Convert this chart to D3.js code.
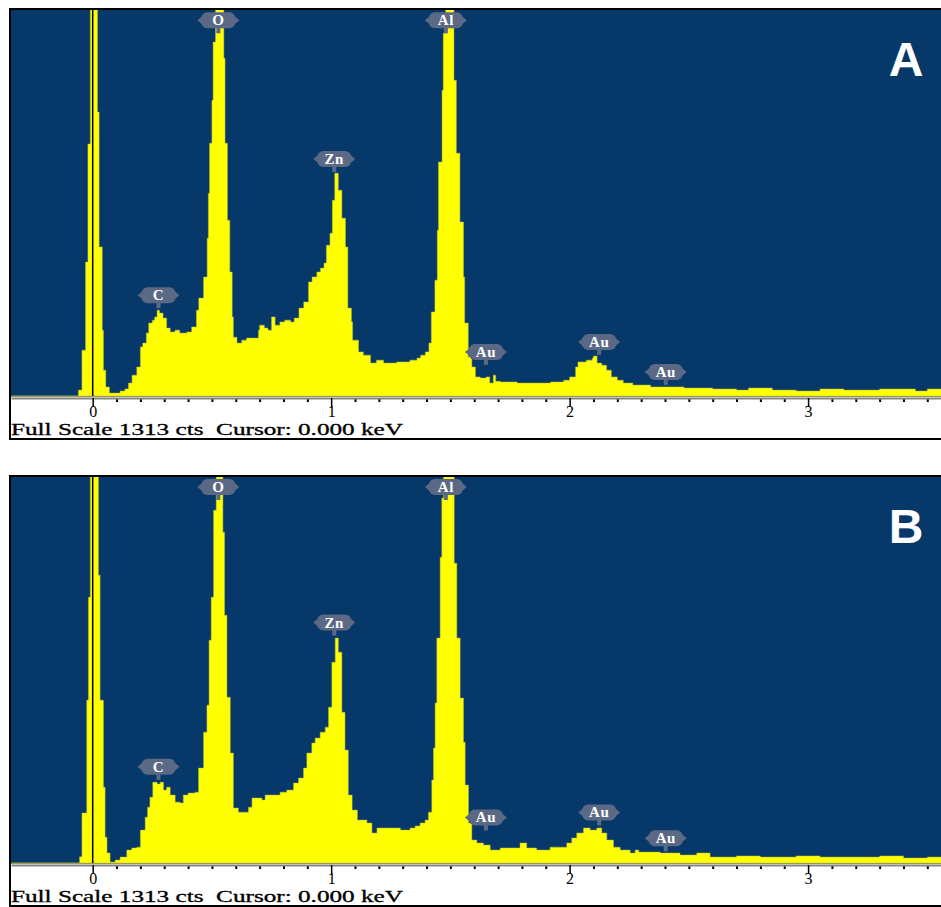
<!DOCTYPE html>
<html>
<head>
<meta charset="utf-8">
<script src="https://cdn.jsdelivr.net/npm/d3@7"></script>
<style>
  body { margin: 0; background: #fff; }
  svg { display: block; }
</style>
</head>
<body>
<script>
// EDS spectra, [energy keV, counts]; values above full scale are clipped by the plot
var fullScale = 1313;

var spectrumA = [
  [-0.34,0],[-0.07,0],[-0.06,20],[-0.045,156],[-0.03,456],[-0.02,857],[-0.01,1600],[0.02,966],
  [0.027,507],[0.04,224],[0.045,88],[0.055,31],[0.07,10],[0.095,10],[0.115,17],[0.135,24],
  [0.15,44],[0.165,71],[0.185,99],[0.2,167],[0.21,180],[0.225,214],[0.235,248],[0.25,258],
  [0.26,269],[0.27,292],[0.28,282],[0.295,265],[0.31,231],[0.325,218],[0.345,224],[0.365,214],
  [0.395,218],[0.415,235],[0.435,292],[0.445,333],[0.465,405],[0.48,537],[0.485,690],[0.49,860],
  [0.5,1006],[0.505,1204],[0.515,1400],[0.535,1380],[0.55,1149],[0.555,860],[0.565,598],[0.575,422],
  [0.585,269],[0.59,200],[0.605,180],[0.625,190],[0.645,197],[0.675,197],[0.695,224],[0.7,241],
  [0.72,231],[0.735,224],[0.75,269],[0.765,241],[0.785,252],[0.805,258],[0.83,252],[0.845,265],
  [0.865,299],[0.885,320],[0.905,388],[0.92,405],[0.94,422],[0.955,435],[0.97,452],[0.98,513],
  [0.995,554],[1.005,666],[1.015,758],[1.03,700],[1.045,605],[1.06,507],[1.07,299],[1.085,252],
  [1.09,190],[1.115,150],[1.135,139],[1.165,112],[1.19,122],[1.22,112],[1.245,112],[1.275,116],
  [1.305,116],[1.33,122],[1.36,129],[1.375,139],[1.395,150],[1.41,180],[1.42,286],[1.435,394],
  [1.445,564],[1.45,796],[1.465,1040],[1.47,1234],[1.48,1400],[1.505,1350],[1.515,1074],[1.525,826],
  [1.54,592],[1.555,405],[1.56,248],[1.575,133],[1.59,99],[1.605,65],[1.625,61],[1.65,65],
  [1.665,44],[1.68,71],[1.69,50],[1.71,48],[1.78,44],[1.85,44],[1.92,48],[1.975,54],
  [2.0,65],[2.025,99],[2.035,116],[2.07,122],[2.095,129],[2.1,136],[2.115,112],[2.135,105],
  [2.155,88],[2.175,65],[2.2,54],[2.225,44],[2.265,37],[2.34,31],[2.41,31],[2.48,27],
  [2.55,27],[2.6,24],[2.7,20],[2.75,27],[2.85,20],[2.95,17],[3.05,24],[3.15,20],
  [3.3,24],[3.45,17],[3.5,24],[3.56,20]
];

var spectrumB = [
  [-0.34,0],[-0.065,0],[-0.055,21],[-0.045,170],[-0.025,554],[-0.018,904],[-0.01,1600],[0.024,979],
  [0.031,554],[0.045,258],[0.052,88],[0.06,34],[0.073,3],[0.094,10],[0.115,20],[0.143,44],
  [0.164,51],[0.185,54],[0.2,112],[0.22,156],[0.23,190],[0.24,224],[0.252,275],[0.27,269],
  [0.283,275],[0.297,248],[0.31,258],[0.325,231],[0.346,207],[0.367,204],[0.38,231],[0.4,238],
  [0.43,241],[0.444,323],[0.465,445],[0.479,537],[0.488,758],[0.497,904],[0.507,1200],[0.518,1400],
  [0.537,1380],[0.546,1125],[0.553,843],[0.563,564],[0.577,374],[0.59,187],[0.611,173],[0.632,173],
  [0.653,190],[0.668,221],[0.689,221],[0.71,214],[0.723,231],[0.758,231],[0.786,241],[0.814,248],
  [0.842,272],[0.863,289],[0.884,323],[0.898,374],[0.919,408],[0.933,425],[0.954,445],[0.975,462],
  [0.989,530],[1.003,683],[1.017,765],[1.03,717],[1.045,513],[1.058,384],[1.072,231],[1.088,180],
  [1.11,146],[1.15,136],[1.171,102],[1.192,119],[1.24,119],[1.29,112],[1.331,119],[1.352,126],
  [1.373,136],[1.394,146],[1.408,173],[1.422,282],[1.429,391],[1.436,544],[1.443,765],[1.457,1040],
  [1.464,1241],[1.471,1400],[1.507,1400],[1.516,1020],[1.527,765],[1.541,561],[1.555,411],[1.562,265],
  [1.576,136],[1.59,78],[1.611,68],[1.639,61],[1.667,44],[1.709,51],[1.75,51],[1.792,68],
  [1.82,51],[1.862,44],[1.918,54],[1.96,54],[1.988,68],[2.009,85],[2.03,102],[2.058,119],
  [2.086,112],[2.114,119],[2.135,102],[2.156,78],[2.184,54],[2.212,44],[2.254,34],[2.275,44],
  [2.29,37],[2.324,37],[2.38,34],[2.463,27],[2.533,34],[2.589,20],[2.7,24],[2.8,20],
  [2.95,24],[3.05,20],[3.22,20],[3.3,24],[3.4,17],[3.5,20],[3.56,20]
];

// peak markers
var peakNames = ['C', 'O', 'Zn', 'Al', 'Au', 'Au', 'Au'];
var peakEnergies = [0.276, 0.527, 1.013, 1.481, 1.649, 2.124, 2.403];
var labelCtsA = [343, 1278, 806, 1278, 150, 184, 82];
var labelCtsB = [327, 1279, 818, 1279, 155, 172, 84];

var majorTicks = [0, 1, 2, 3];
var minorTicks = d3.range(1, 36).filter(function(i) { return i % 10 !== 0; }).map(function(i) { return i / 10; });

var W = 941, H = 907;
var bgColor = '#06386a';   // plot background
var fillColor = '#ffff00'; // spectrum
var pillColor = '#5b6984'; // marker labels

var svg = d3.select('body').append('svg').attr('width', W).attr('height', H);

var x = d3.scaleLinear().domain([-0.3426, 3.5574]).range([11, 941]);
var y = d3.scaleLinear().domain([0, fullScale]).range([396, 10]);

var area = d3.area()
  .x(function(d) { return x(d[0]); })
  .y0(y(0))
  .y1(function(d) { return y(d[1]); })
  .curve(d3.curveStepAfter);

function drawPanel(top, spectrum, labelCts, letter, id) {
  var g = svg.append('g').attr('transform', 'translate(0,' + top + ')');

  // frame + plot background
  g.append('rect').attr('x', 10).attr('y', 9).attr('width', 940).attr('height', 430)
    .attr('fill', '#fff').attr('stroke', '#000').attr('stroke-width', 2);
  g.append('rect').attr('x', 11).attr('y', 10).attr('width', 930).attr('height', 386)
    .attr('fill', bgColor);

  g.append('clipPath').attr('id', 'clip-' + id)
    .append('rect').attr('x', 11).attr('y', 10).attr('width', 930).attr('height', 386);

  var plot = g.append('g').attr('clip-path', 'url(#clip-' + id + ')');
  plot.append('path').datum(spectrum)
    .attr('d', area)
    .attr('fill', fillColor)
    .attr('stroke', '#b9b942')
    .attr('stroke-width', 0.5);

  // cursor at 0 keV
  plot.append('line')
    .attr('x1', x(0)).attr('x2', x(0)).attr('y1', 10).attr('y2', 396)
    .attr('stroke', '#000').attr('stroke-width', 1.5);

  // peak labels
  var pills = g.selectAll('.pill').data(peakNames).enter().append('g')
    .attr('class', 'pill')
    .attr('transform', function(d, i) {
      return 'translate(' + x(peakEnergies[i]) + ',' + y(labelCts[i]) + ')';
    });
  pills.append('rect').attr('x', -17).attr('y', -8).attr('width', 34).attr('height', 16)
    .attr('rx', 6).attr('fill', pillColor);
  pills.append('path').attr('d', 'M-21,0L-15,-5L-15,5Z M21,0L15,-5L15,5Z').attr('fill', pillColor);
  pills.append('rect').attr('x', -2).attr('y', 7).attr('width', 4).attr('height', 6).attr('fill', pillColor);
  pills.append('text')
    .attr('y', 5)
    .attr('text-anchor', 'middle')
    .attr('fill', '#fff')
    .style('font', 'bold 15px "Liberation Serif", "DejaVu Serif", serif')
    .style('letter-spacing', '0.5px')
    .text(function(d) { return d; });

  // panel letter
  g.append('text')
    .attr('x', 906).attr('y', 76)
    .attr('text-anchor', 'middle')
    .attr('fill', '#fff')
    .style('font', 'bold 48px "Liberation Sans", Arial, sans-serif')
    .text(letter);

  // energy axis
  g.append('line').attr('x1', 11).attr('x2', 941).attr('y1', 396.5).attr('y2', 396.5)
    .attr('stroke', '#9a9a55').attr('stroke-width', 1);

  var axisG = g.append('g').attr('transform', 'translate(0,398)');
  var minor = axisG.append('g')
    .call(d3.axisBottom(x).tickValues(minorTicks).tickSize(4).tickSizeOuter(0).tickFormat(''));
  minor.select('.domain').remove();
  minor.selectAll('.tick line').attr('stroke', '#000').attr('stroke-width', 2);

  var major = axisG.append('g')
    .call(d3.axisBottom(x).tickValues(majorTicks).tickSize(9).tickSizeOuter(0).tickPadding(-1)
      .tickFormat(d3.format('d')));
  major.select('.domain').attr('stroke', '#858585').attr('stroke-width', 2);
  major.selectAll('.tick line').attr('stroke', '#000').attr('stroke-width', 1.5);
  major.selectAll('.tick text')
    .attr('fill', '#000')
    .style('font', '16px "Liberation Serif", "DejaVu Serif", serif');

  g.append('text')
    .attr('x', 11).attr('y', 435)
    .attr('textLength', 392).attr('lengthAdjust', 'spacingAndGlyphs')
    .style('white-space', 'pre')
    .style('font', '16px "Liberation Serif", "DejaVu Serif", serif')
    .style('stroke', '#000').style('stroke-width', 0.3)
    .attr('fill', '#000')
    .text('Full Scale ' + fullScale + ' cts  Cursor: 0.000 keV');
}

drawPanel(0, spectrumA, labelCtsA, 'A', 'a');
drawPanel(467, spectrumB, labelCtsB, 'B', 'b');
</script>
</body>
</html>
